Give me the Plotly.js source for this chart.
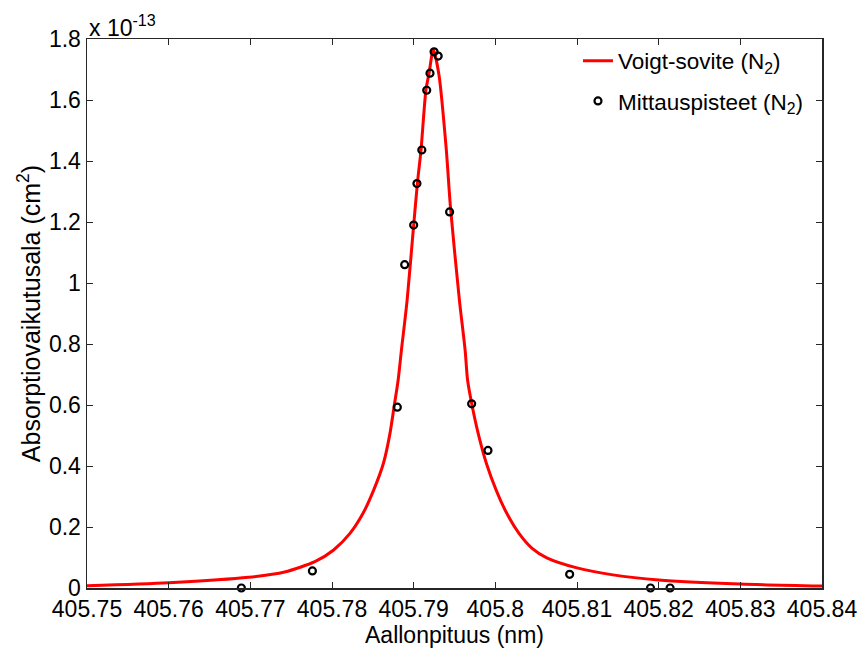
<!DOCTYPE html>
<html>
<head>
<meta charset="utf-8">
<script src="https://cdn.plot.ly/plotly-3.0.1.min.js"></script>
<style>html,body{margin:0;padding:0;background:#fff;}#chart{width:864px;height:650px;}</style>
</head>
<body>
<div id="chart"></div>
<script>
// Values in units of 1e-13 cm^2
const fitWavelength = [405.7500, 405.7600, 405.7698, 405.7742, 405.7779, 405.7802, 405.7822, 405.7838, 405.7851, 405.7863, 405.7871, 405.7876, 405.7881, 405.7885, 405.7892, 405.7900, 405.7905, 405.7909, 405.7915, 405.7919, 405.7924, 405.7931, 405.7940, 405.7945, 405.7956, 405.7963, 405.7966, 405.7971, 405.7979, 405.7989, 405.8001, 405.8014, 405.8029, 405.8045, 405.8063, 405.8100, 405.8144, 405.8200, 405.8300, 405.8400];
const fitCross = [0.0075, 0.0174, 0.0351, 0.0525, 0.0862, 0.1246, 0.179, 0.245, 0.321, 0.409, 0.507, 0.594, 0.682, 0.780, 0.944, 1.190, 1.338, 1.436, 1.633, 1.690, 1.766, 1.682, 1.436, 1.250, 0.944, 0.780, 0.682, 0.606, 0.507, 0.409, 0.321, 0.245, 0.179, 0.130, 0.099, 0.066, 0.043, 0.026, 0.013, 0.0066];

const measWavelength = [405.7689, 405.7776, 405.7880, 405.7889, 405.7900, 405.7904, 405.7910, 405.7916, 405.7920, 405.7925, 405.7930, 405.7944, 405.7971, 405.7991, 405.8091, 405.8190, 405.8214];
const measCross = [0.0, 0.056, 0.593, 1.060, 1.190, 1.326, 1.436, 1.632, 1.688, 1.758, 1.744, 1.233, 0.604, 0.451, 0.045, 0.0, 0.0];

const xTickVals = [405.75, 405.76, 405.77, 405.78, 405.79, 405.80, 405.81, 405.82, 405.83, 405.84];
const xTickText = ['405.75', '405.76', '405.77', '405.78', '405.79', '405.8', '405.81', '405.82', '405.83', '405.84'];
const yTickVals = [0, 0.2, 0.4, 0.6, 0.8, 1.0, 1.2, 1.4, 1.6, 1.8];
const yTickText = ['0', '0.2', '0.4', '0.6', '0.8', '1', '1.2', '1.4', '1.6', '1.8'];

const FONT = 'Arial, "Liberation Sans", sans-serif';

const traces = [
  {
    x: fitWavelength, y: fitCross, type: 'scatter', mode: 'lines',
    name: 'Voigt-sovite (N<sub>2</sub>)',
    line: {color: '#ff0000', width: 3, shape: 'spline', smoothing: 0.7},
    legendgroup: 'a'
  },
  {
    x: measWavelength, y: measCross, type: 'scatter', mode: 'markers',
    name: 'Mittauspisteet (N<sub>2</sub>)',
    marker: {symbol: 'circle-open', size: 7, color: '#000000', line: {color: '#000000', width: 2.2}},
    cliponaxis: false,
    legendgroup: 'b'
  }
];

const axisCommon = {
  showline: true, mirror: 'ticks', linecolor: '#262626', linewidth: 1.5,
  ticks: 'inside', ticklen: 6, tickcolor: '#262626', tickwidth: 1,
  showgrid: false, zeroline: false,
  tickfont: {family: FONT, size: 23, color: '#000'}
};

const layout = {
  width: 864, height: 650,
  paper_bgcolor: '#ffffff', plot_bgcolor: '#ffffff',
  margin: {l: 87, r: 42, t: 39, b: 62},
  font: {family: FONT, size: 23, color: '#000'},
  showlegend: true,
  legend: {
    x: 0.668, y: 0.999, xanchor: 'left', yanchor: 'top',
    bgcolor: 'rgba(0,0,0,0)', borderwidth: 0,
    font: {family: FONT, size: 22.5, color: '#000'},
    traceorder: 'grouped', tracegroupgap: 8
  },
  xaxis: Object.assign({}, axisCommon, {
    range: [405.75, 405.84], tickvals: xTickVals, ticktext: xTickText,
    title: {text: 'Aallonpituus (nm)', font: {family: FONT, size: 23, color: '#000'}, standoff: 5}
  }),
  yaxis: Object.assign({}, axisCommon, {
    range: [0, 1.8], tickvals: yTickVals, ticktext: yTickText,
    title: {text: 'Absorptiovaikutusala (cm<sup>2</sup>)', font: {family: FONT, size: 25, color: '#000'}, standoff: 1}
  }),
  annotations: [{
    xref: 'paper', yref: 'paper', x: 0, y: 1, xanchor: 'left', yanchor: 'bottom',
    text: 'x 10<sup>-13</sup>', showarrow: false,
    font: {family: FONT, size: 23, color: '#000'}, yshift: -4
  }]
};

Plotly.newPlot('chart', traces, layout, {displayModeBar: false, staticPlot: true});
</script>
</body>
</html>
